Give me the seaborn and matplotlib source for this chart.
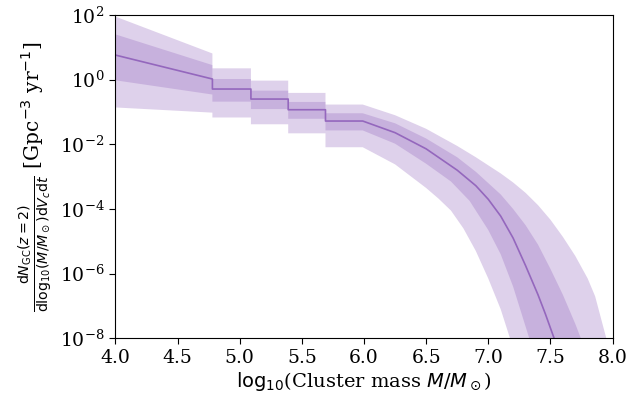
import numpy as np
import matplotlib
matplotlib.use("Agg")
import matplotlib.pyplot as plt
import seaborn as sns

# ***** data (log10 of the rate, Gpc^-3 yr^-1) ***** #
# binned part (4.0 - 6.0): first bin is sloped, the rest are flat steps
step_mass = [4.0, 4.78, 4.78, 5.09, 5.09, 5.39, 5.39, 5.69, 5.69, 5.99]
step_med = [0.76, 0.02, -0.29, -0.29, -0.60, -0.60, -0.93, -0.93, -1.28, -1.28]
step_hi68 = [1.40, 0.45, 0.02, 0.02, -0.34, -0.34, -0.69, -0.69, -1.04, -1.04]
step_lo68 = [-0.02, -0.46, -0.68, -0.68, -0.91, -0.91, -1.21, -1.21, -1.57, -1.57]
step_hi95 = [1.95, 0.81, 0.35, 0.35, -0.03, -0.03, -0.41, -0.41, -0.77, -0.77]
step_lo95 = [-0.86, -1.02, -1.17, -1.17, -1.38, -1.38, -1.66, -1.66, -2.09, -2.09]

# continuous part (6.0 - 8.0), each edge read at its own masses
med_mass = [6.25, 6.50, 6.75, 6.90, 7.00, 7.10, 7.20, 7.30, 7.40, 7.46, 7.53]
med_val = [-1.64, -2.14, -2.80, -3.28, -3.70, -4.22, -4.90, -5.75, -6.65, -7.25, -8.0]

hi68_mass = [6.25, 6.50, 6.75, 6.90, 7.00, 7.10, 7.20, 7.30, 7.40, 7.50, 7.60, 7.70, 7.745]
hi68_val = [-1.35, -1.82, -2.40, -2.85, -3.20, -3.55, -4.00, -4.50, -5.10, -5.85, -6.65, -7.55, -8.0]

lo68_mass = [6.25, 6.50, 6.70, 6.85, 7.00, 7.10, 7.20, 7.33]
lo68_val = [-1.98, -2.60, -3.15, -3.75, -4.65, -5.40, -6.40, -8.0]

hi95_mass = [6.25, 6.50, 6.75, 6.90, 7.00, 7.10, 7.20, 7.30, 7.40, 7.50, 7.60, 7.70, 7.80, 7.86, 7.95]
hi95_val = [-1.10, -1.52, -2.05, -2.40, -2.65, -2.90, -3.18, -3.50, -3.88, -4.33, -4.86, -5.45, -6.15, -6.70, -8.0]

lo95_mass = [6.25, 6.50, 6.60, 6.70, 6.80, 6.90, 7.00, 7.10, 7.175]
lo95_val = [-2.62, -3.35, -3.68, -4.05, -4.60, -5.30, -6.15, -7.10, -8.0]

xticks = [4.0, 4.5, 5.0, 5.5, 6.0, 6.5, 7.0, 7.5, 8.0]

# ***** style ***** #
sns.set_style("ticks", {"axes.edgecolor": "black", "xtick.color": "black",
                        "ytick.color": "black", "text.color": "black",
                        "axes.labelcolor": "black"})
plt.rcParams["font.family"] = ["DejaVu Serif"]
plt.rcParams["mathtext.fontset"] = "dejavusans"
plt.rcParams["xtick.major.size"] = 4.5
plt.rcParams["ytick.major.size"] = 4.5

col = "tab:purple"


def edge(xs, ys):
    return np.array(xs), 10 ** np.array(ys, dtype=float)


fig = plt.figure(figsize=(6.29, 4.04), dpi=100)
ax = fig.add_axes([0.1836, 0.1626, 0.7902, 0.8003])

# 95% band
xu, yu = edge(step_mass + hi95_mass, step_hi95 + hi95_val)
xl, yl = edge(step_mass + lo95_mass, step_lo95 + lo95_val)
ax.fill(np.concatenate([xu, xl[::-1]]), np.concatenate([yu, yl[::-1]]),
        color=col, alpha=0.3, lw=0)

# 68% band
xu, yu = edge(step_mass + hi68_mass, step_hi68 + hi68_val)
xl, yl = edge(step_mass + lo68_mass, step_lo68 + lo68_val)
ax.fill(np.concatenate([xu, xl[::-1]]), np.concatenate([yu, yl[::-1]]),
        color=col, alpha=0.3, lw=0)

# median
xm, ym = edge(step_mass + med_mass, step_med + med_val)
sns.lineplot(x=xm, y=ym, sort=False, estimator=None, color=col, lw=1.2, ax=ax)

ax.set_yscale("log")
ax.set_xlim(4.0, 8.0)
ax.set_ylim(1e-8, 1e2)
ax.set_xticks(xticks)
ax.set_yticks([1e2, 1e0, 1e-2, 1e-4, 1e-6, 1e-8])
ax.minorticks_off()
ax.tick_params(labelsize=13.5)

ax.set_xlabel(r"$\mathrm{log}_{10}$(Cluster mass $M/M_\odot$)", fontsize=14, labelpad=2)
ax.set_ylabel(r"$\frac{\mathrm{d}N_{\mathrm{GC}}(z=2)}{\mathrm{dlog}_{10}(M/M_\odot)\mathrm{d}V_c\mathrm{d}t}$"
              r" [Gpc$^{-3}$ yr$^{-1}$]", fontsize=14.5)

fig.savefig("out.png", dpi=100)
